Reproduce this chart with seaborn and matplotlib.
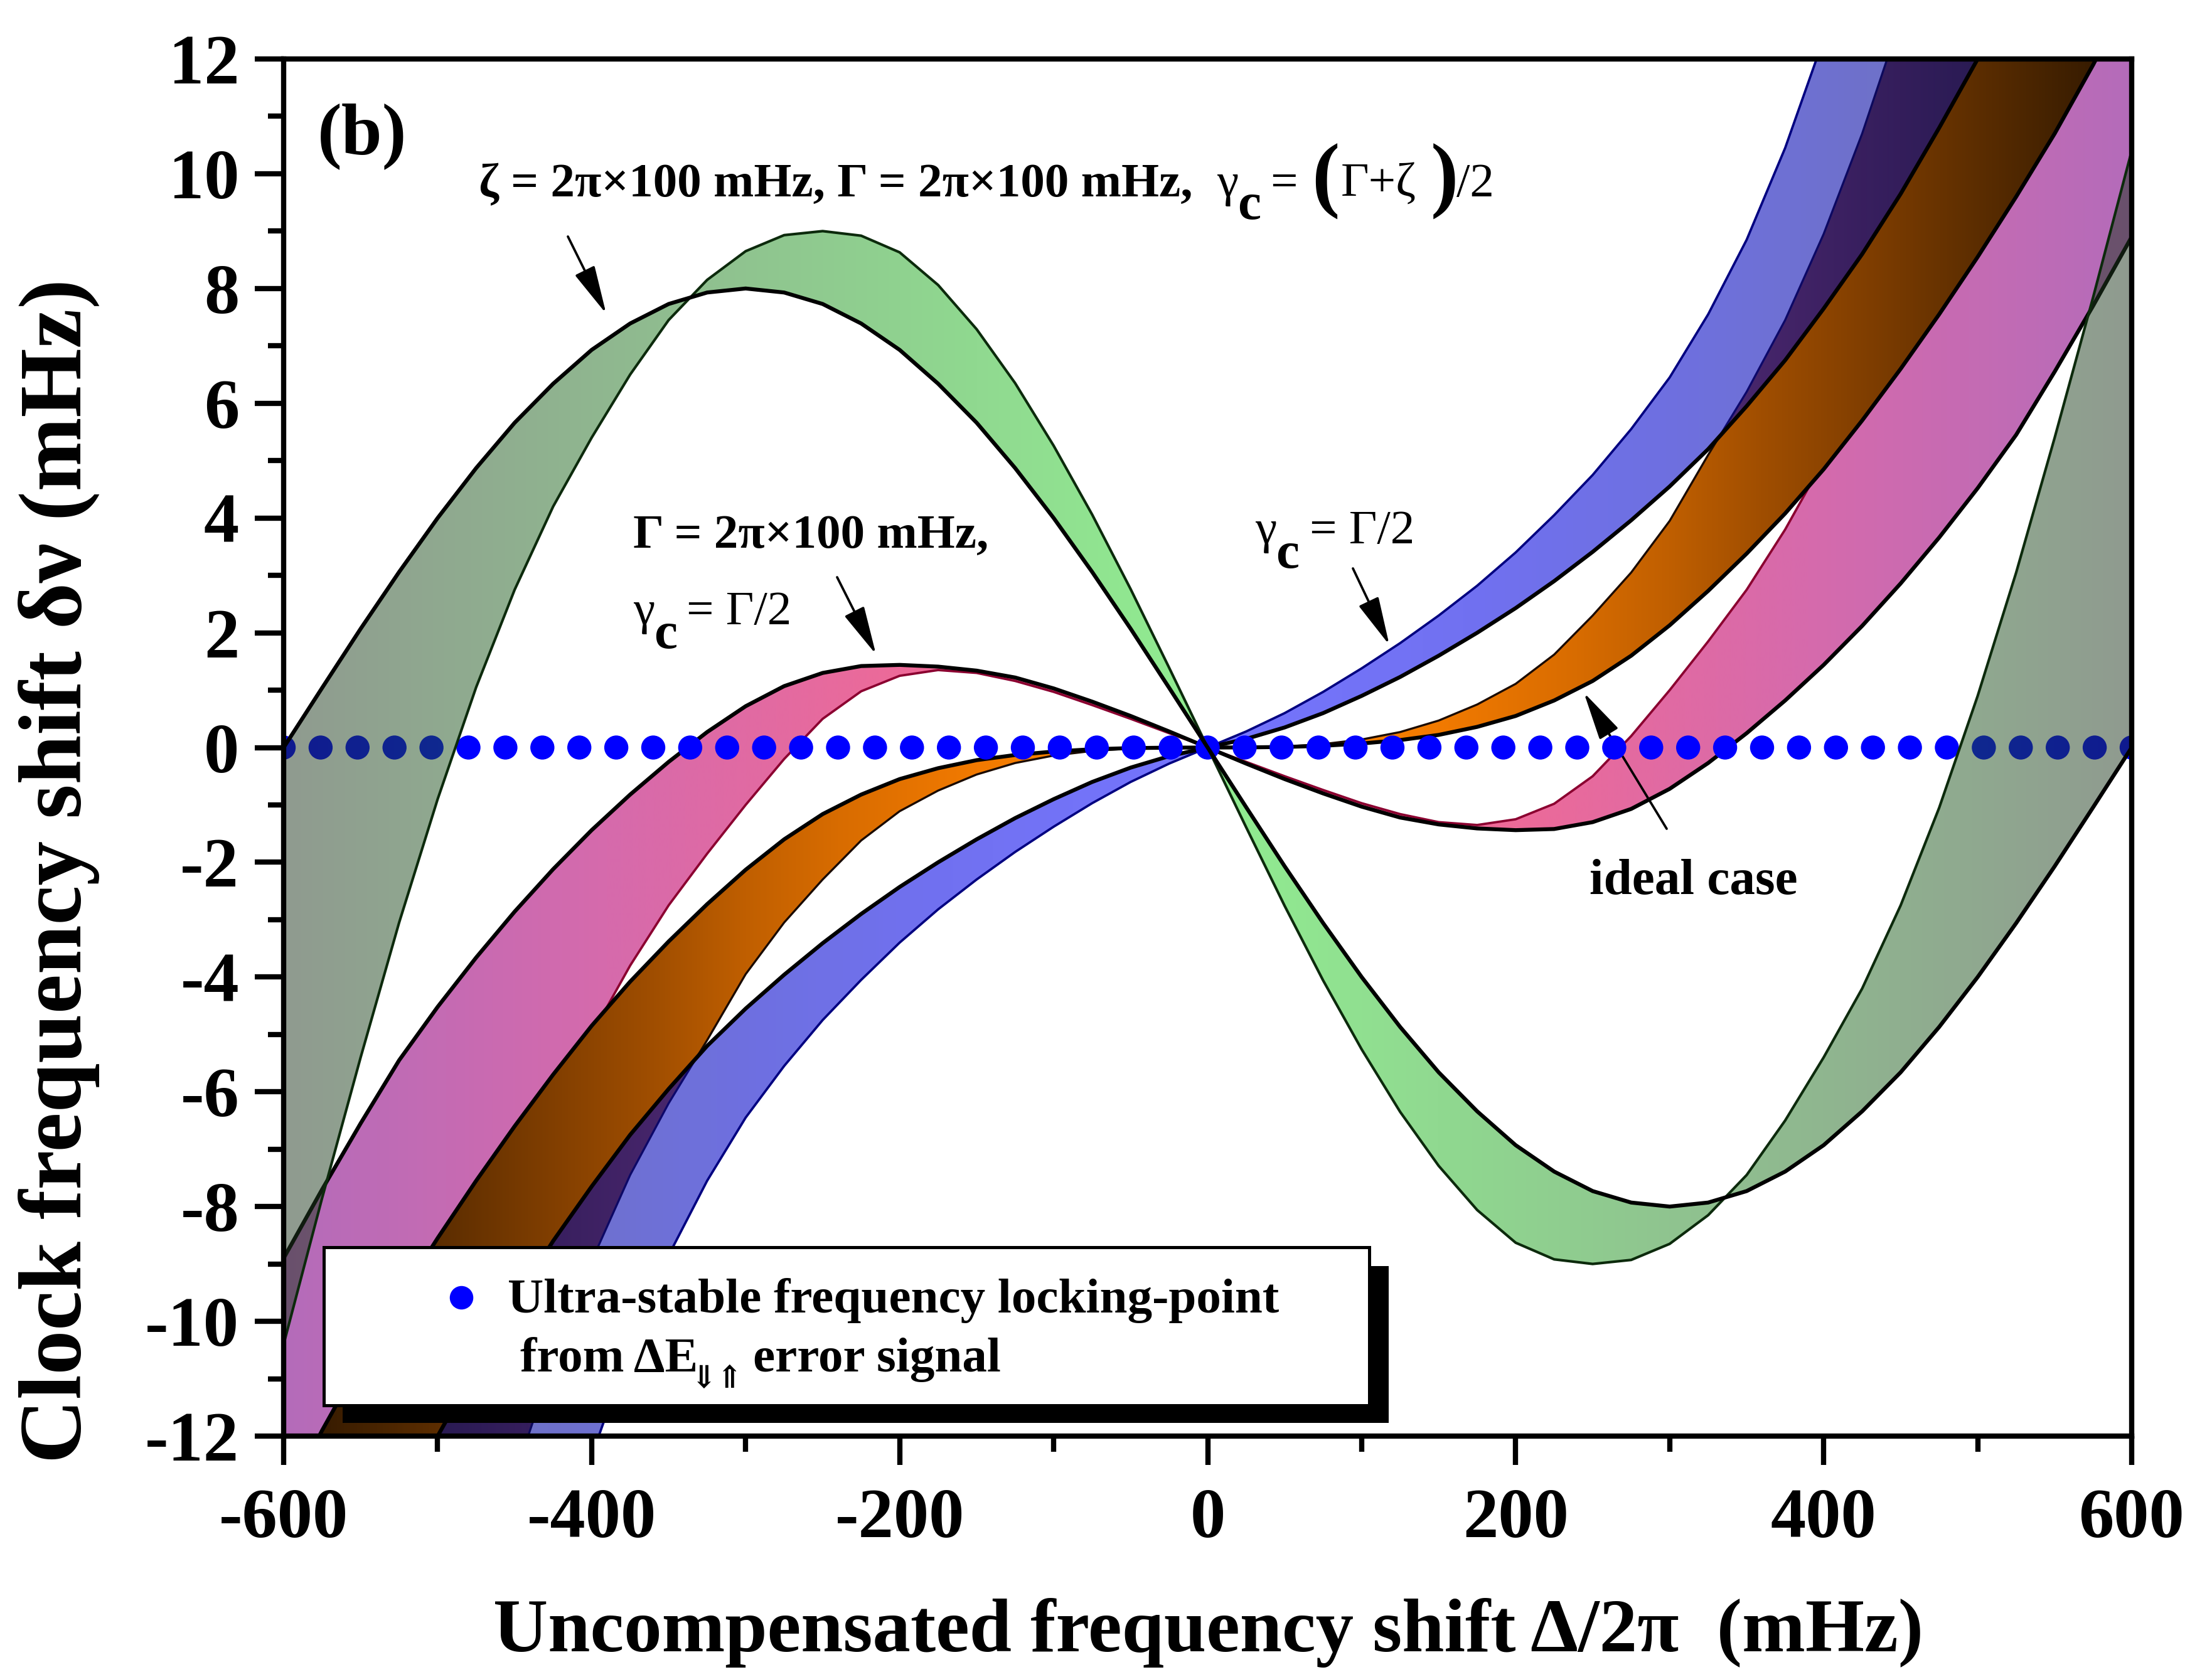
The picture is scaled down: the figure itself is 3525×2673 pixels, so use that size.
import numpy as np
import matplotlib
matplotlib.use("Agg")
import matplotlib.pyplot as plt
import seaborn as sns
from matplotlib.patches import Polygon, Rectangle
from matplotlib.lines import Line2D

# ---- data ---------------------------------------------------------------
# common x grid of the digitised curves (mHz)
x = np.arange(-600, 601, 25)

# green band  (zeta = Gamma = 2pi x 100 mHz, gamma_c = (Gamma+zeta)/2)
green_a = [-10.4, -7.85, -5.4, -3.05, -0.9, 1.05, 2.75, 4.2, 5.4, 6.5, 7.45, 8.15, 8.65, 8.93, 9.0, 8.92, 8.63, 8.06, 7.29, 6.35, 5.26, 4.06, 2.76, 1.39,
           0.0,
           -1.39, -2.76, -4.06, -5.26, -6.35, -7.29, -8.06, -8.63, -8.92, -9.0, -8.93, -8.65, -8.15, -7.45, -6.5, -5.4, -4.2, -2.75, -1.05, 0.9, 3.05, 5.4, 7.85, 10.4]
green_b = [0.0, 1.04, 2.07, 3.06, 4.0, 4.87, 5.66, 6.34, 6.93, 7.39, 7.73, 7.93, 8.0, 7.93, 7.73, 7.39, 6.93, 6.34, 5.66, 4.87, 4.0, 3.06, 2.07, 1.04,
           0.0,
           -1.04, -2.07, -3.06, -4.0, -4.87, -5.66, -6.34, -6.93, -7.39, -7.73, -7.93, -8.0, -7.93, -7.73, -7.39, -6.93, -6.34, -5.66, -4.87, -4.0, -3.06, -2.07, -1.04, 0.0]

# pink band  (Gamma = 2pi x 100 mHz, gamma_c = Gamma/2)
pink_a = [-17.0, -15.3, -13.6, -12.0, -10.5, -9.05, -7.65, -6.3, -5.0, -3.8, -2.75, -1.85, -1.0, -0.2, 0.5, 0.98, 1.25, 1.35, 1.3, 1.16, 0.97, 0.74, 0.5, 0.25,
          0.0,
          -0.25, -0.5, -0.74, -0.97, -1.16, -1.3, -1.35, -1.25, -0.98, -0.5, 0.2, 1.0, 1.85, 2.75, 3.8, 5.0, 6.3, 7.65, 9.05, 10.5, 12.0, 13.6, 15.3, 17.0]
pink_b = [-8.9, -7.7, -6.55, -5.45, -4.52, -3.66, -2.86, -2.12, -1.44, -0.82, -0.25, 0.27, 0.72, 1.07, 1.3, 1.42, 1.44, 1.41, 1.34, 1.22, 1.03, 0.8, 0.55, 0.28,
          0.0,
          -0.28, -0.55, -0.8, -1.03, -1.22, -1.34, -1.41, -1.44, -1.42, -1.3, -1.07, -0.72, -0.27, 0.25, 0.82, 1.44, 2.12, 2.86, 3.66, 4.52, 5.45, 6.55, 7.7, 8.9]

# orange band (ideal case)
orange_a = [-30.1, -26.5, -23.2, -20.1, -17.4, -14.9, -12.7, -10.7, -8.95, -7.45, -6.2, -5.1, -3.95, -3.05, -2.3, -1.62, -1.11, -0.75, -0.47, -0.27, -0.14, -0.06, -0.017, -0.002,
            0.0,
            0.002, 0.017, 0.06, 0.14, 0.27, 0.47, 0.75, 1.11, 1.62, 2.3, 3.05, 3.95, 5.1, 6.2, 7.45, 8.95, 10.7, 12.7, 14.9, 17.4, 20.1, 23.2, 26.5, 30.1]
orange_b = [-13.2, -11.9, -10.7, -9.6, -8.55, -7.55, -6.6, -5.7, -4.85, -4.08, -3.38, -2.73, -2.13, -1.6, -1.16, -0.82, -0.55, -0.36, -0.22, -0.13, -0.07, -0.03, -0.01, -0.002,
            0.0,
            0.002, 0.01, 0.03, 0.07, 0.13, 0.22, 0.36, 0.55, 0.82, 1.16, 1.6, 2.13, 2.73, 3.38, 4.08, 4.85, 5.7, 6.6, 7.55, 8.55, 9.6, 10.7, 11.9, 13.2]

# blue band (gamma_c = Gamma/2)
blue_a = [-39.0, -35.0, -31.0, -27.0, -23.5, -20.2, -17.2, -14.6, -12.35, -10.45, -8.85, -7.55, -6.45, -5.55, -4.75, -4.05, -3.4, -2.82, -2.3, -1.82, -1.38, -0.97, -0.6, -0.28,
          0.0,
          0.28, 0.6, 0.97, 1.38, 1.82, 2.3, 2.82, 3.4, 4.05, 4.75, 5.55, 6.45, 7.55, 8.85, 10.45, 12.35, 14.6, 17.2, 20.2, 23.5, 27.0, 31.0, 35.0, 39.0]
blue_b = [-17.5, -16.05, -14.65, -13.3, -12.0, -10.8, -9.65, -8.6, -7.65, -6.75, -5.95, -5.2, -4.55, -3.96, -3.41, -2.9, -2.43, -2.0, -1.6, -1.23, -0.9, -0.6, -0.35, -0.15,
          0.0,
          0.15, 0.35, 0.6, 0.9, 1.23, 1.6, 2.0, 2.43, 2.9, 3.41, 3.96, 4.55, 5.2, 5.95, 6.75, 7.65, 8.6, 9.65, 10.8, 12.0, 13.3, 14.65, 16.05, 17.5]

# locking points on the zero line (one every 24 mHz)
dots_x = np.arange(-600, 601, 24)
dots_y = np.zeros(len(dots_x))

x_ticks = [-600, -400, -200, 0, 200, 400, 600]
y_ticks = [-12, -10, -8, -6, -4, -2, 0, 2, 4, 6, 8, 10, 12]

# ---- style ----------------------------------------------------------------
sns.set_style("ticks")
plt.rcParams["font.family"] = ["Liberation Serif", "DejaVu Serif", "DejaVu Sans"]
plt.rcParams["font.weight"] = "bold"
plt.rcParams["axes.unicode_minus"] = False
for key in ["text.color", "axes.labelcolor", "xtick.color", "ytick.color", "axes.edgecolor"]:
    plt.rcParams[key] = "black"

W, H = 3525, 2673
def fx(px):
    return px / W
def fy(py):
    return 1 - py / H

fig = plt.figure(figsize=(W / 300, H / 300), dpi=300)
ax = fig.add_axes([fx(452), fy(2289), fx(3397) - fx(452), fy(94) - fy(2289)])


def gradient(stops_t, stops_hex, alpha=1.0):
    # horizontal colour ramp, symmetric about x = 0
    xs = np.linspace(-600, 600, 1201)
    t = np.abs(xs) / 600
    rgb = np.array([matplotlib.colors.to_rgb(c) for c in stops_hex])
    img = np.ones((2, len(xs), 4))
    for k in range(3):
        ch = np.interp(t, stops_t, rgb[:, k])
        # colour that looks right on white when drawn with this alpha
        img[:, :, k] = np.clip((ch - (1 - alpha)) / alpha, 0, 1)
    img[:, :, 3] = alpha
    return img


def band(lo, hi, img, z):
    verts = np.column_stack([np.r_[x, x[::-1]], np.r_[hi, np.array(lo)[::-1]]])
    poly = Polygon(verts, closed=True, fill=False, edgecolor="none")
    ax.add_patch(poly)
    im = ax.imshow(img, extent=[-600, 600, -12, 12], origin="lower", aspect="auto",
                   interpolation="bilinear", zorder=z)
    im.set_clip_path(poly)


def edge(y, color, lw, z):
    sns.lineplot(x=x, y=y, ax=ax, color=color, lw=lw, sort=False, zorder=z,
                 solid_joinstyle="round", solid_capstyle="round")


# pink
band(pink_b, pink_a, gradient([0, 0.3, 0.65, 1.0], ["#f76a8a", "#ef6a97", "#d66aac", "#b46cba"]), 1)
edge(pink_a, "#8b0030", 0.9, 1.6)
edge(pink_b, "black", 1.5, 1.6)

# orange
band(orange_b, orange_a, gradient([0, 0.25, 0.4, 0.5, 0.6, 0.7, 0.8, 0.9, 1.0],
                                  ["#ff8a00", "#f27a00", "#d86c00", "#c05f00", "#a04e00",
                                   "#844000", "#663200", "#482400", "#2c1600"]), 2)
edge(orange_a, "#1a0a00", 0.8, 2.6)
edge(orange_b, "black", 1.5, 2.6)

# blue (semi transparent, darkens the orange where they overlap)
band(blue_b, blue_a, gradient([0, 0.3, 0.5, 0.7, 1.0],
                              ["#7474ff", "#7070f0", "#6d6fe0", "#6d70cc", "#7077b0"], alpha=0.58), 3)
edge(blue_a, "#000080", 0.9, 3.6)
edge(blue_b, "black", 1.5, 3.6)

# locking points
sns.scatterplot(x=dots_x, y=dots_y, ax=ax, s=85, color="#0000ff", edgecolor="none", zorder=4)

# green (semi transparent, darkens what lies below)
band(green_b, green_a, gradient([0, 0.5, 1.0], ["#90ee90", "#8fc48f", "#8f9a8f"], alpha=0.5), 5)
edge(green_a, "#0c2a0c", 1.0, 5.6)
edge(green_b, "black", 1.5, 5.6)

ax.set_xlim(-600, 600)
ax.set_ylim(-12, 12)
ax.set_xticks(x_ticks)
ax.set_yticks(y_ticks)
ax.set_xticks(np.arange(-500, 600, 200), minor=True)
ax.set_yticks(np.arange(-11, 12, 2), minor=True)
ax.set_xticklabels([str(v) for v in x_ticks])
ax.set_yticklabels([str(v) for v in y_ticks])
ax.set_xlabel("")
ax.set_ylabel("")
ax.tick_params(which="major", direction="out", length=11, width=2, labelsize=27, colors="black")
ax.tick_params(axis="x", which="major", pad=9)
ax.tick_params(axis="y", which="major", pad=6)
ax.tick_params(which="minor", direction="out", length=6, width=2, colors="black")
ax.tick_params(top=False, right=False)
for s in ax.spines.values():
    s.set_linewidth(2)
    s.set_color("black")
    s.set_zorder(10)
    s.set_visible(True)

# ---- labels ----------------------------------------------------------------
fig.text(fx(1925), fy(2603), "Uncompensated frequency shift \u0394/2\u03c0  (mHz)",
         ha="center", va="center", fontsize=29, fontweight="bold")
fig.text(fx(94), fy(1388), "Clock frequency shift \u03b4\u03bd (mHz)", rotation=90,
         ha="center", va="center", fontsize=34, fontweight="bold")
fig.text(fx(577), fy(217), "(b)", ha="center", va="center", fontsize=28, fontweight="bold")

def piece(px, py, s, size=18.5, weight="bold"):
    fig.text(fx(px), fy(py), s, ha="left", va="baseline", fontsize=size, fontweight=weight)

# top annotation
piece(763, 313, "\u03b6 = 2\u03c0\u00d7100 mHz, \u0393 = 2\u03c0\u00d7100 mHz,")
piece(1939, 313, "\u03b3", weight="normal")
piece(1972, 349, "c", size=20)
piece(2024, 313, "=", weight="normal")
piece(2090, 322, "(", size=32)
piece(2137, 313, "\u0393+\u03b6", weight="normal")
piece(2280, 322, ")", size=32)
piece(2321, 313, "/2", weight="normal")

# pink annotation
piece(1009, 873, "\u0393 = 2\u03c0\u00d7100 mHz,")
piece(1009, 995, "\u03b3", weight="normal")
piece(1042, 1033, "c", size=20)
piece(1094, 995, "= \u0393/2", weight="normal")

# blue annotation
piece(2000, 866, "\u03b3", weight="normal")
piece(2033, 905, "c", size=20)
piece(2087, 866, "= \u0393/2", weight="normal")

piece(2533, 1425, "ideal case", size=19.5)

def arrow(tail, tip):
    ax.annotate("", xy=(tip[0], H - tip[1]), xytext=(tail[0], H - tail[1]),
                xycoords="figure pixels", textcoords="figure pixels",
                arrowprops=dict(arrowstyle="-|>,head_length=0.8,head_width=0.18",
                                mutation_scale=20, lw=0.9, color="black",
                                shrinkA=0, shrinkB=0))

arrow((905, 377), (966, 500))
arrow((1334, 920), (1396, 1043))
arrow((2156, 906), (2214, 1028))
arrow((2656, 1321), (2524, 1104))

# ---- legend box with drop shadow -------------------------------------------
fig.add_artist(Rectangle((fx(546), fy(2268)), fx(2213) - fx(546), fy(2018) - fy(2268),
                         transform=fig.transFigure, facecolor="black", edgecolor="none", zorder=20))
fig.add_artist(Rectangle((fx(516), fy(2240)), fx(2182) - fx(516), fy(1988) - fy(2240),
                         transform=fig.transFigure, facecolor="white", edgecolor="black",
                         lw=1.2, zorder=21))
fig.add_artist(Line2D([fx(735)], [fy(2068)], marker="o", markersize=9, color="#0000ff",
                      markeredgecolor="none", linestyle="none", transform=fig.transFigure, zorder=22))
lt = dict(ha="left", va="baseline", fontsize=19, fontweight="bold", zorder=22)
fig.text(fx(809), fy(2092), "Ultra-stable frequency locking-point", **lt)
fig.text(fx(829), fy(2186), "from \u0394E", **lt)
fig.text(fx(1100), fy(2212), "\u21d3\u21d1", ha="left", va="baseline", fontsize=12, zorder=22)
fig.text(fx(1200), fy(2186), "error signal", **lt)

fig.savefig("out.png", dpi=300)
